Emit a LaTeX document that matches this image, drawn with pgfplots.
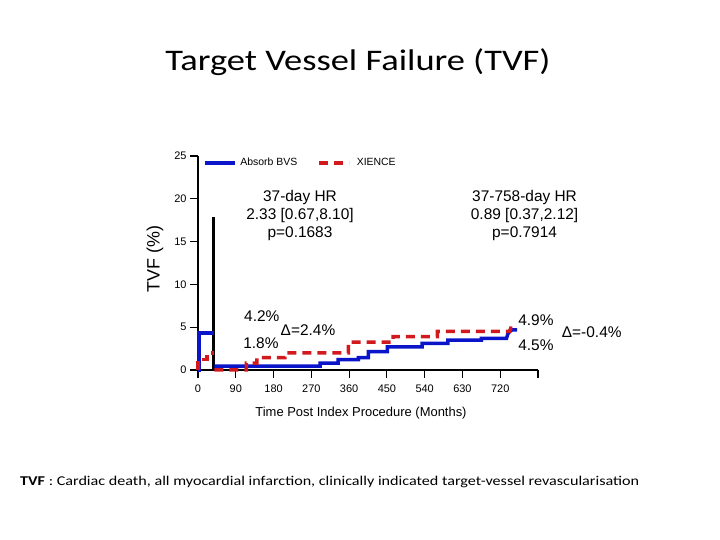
\documentclass[border=0pt]{standalone}
\usepackage{pgfplots}
\pgfplotsset{compat=1.18}
\usepackage{fontspec}
\setmainfont{Liberation Sans}
\newfontfamily\calibri{Carlito}
\definecolor{absorb}{RGB}{10,20,200}
\definecolor{xience}{RGB}{210,25,30}
\begin{document}
\begin{tikzpicture}
\useasboundingbox (0,0) rectangle (720bp,540bp);
\node[font=\calibri\fontsize{30}{36}\selectfont] at (358bp,478bp) {\scalebox{1.22}[1]{Target Vessel Failure (TVF)}};
\node[anchor=west,font=\calibri\fontsize{13.5}{16}\selectfont,inner sep=0pt] at (20bp,58bp) {\scalebox{1.2}[1]{\textbf{TVF} : Cardiac death, all myocardial infarction, clinically indicated target-vessel revascularisation}};
\node[rotate=90,font=\fontsize{18}{20}\selectfont] at (155bp,281bp) {TVF (\%)};
\node[font=\fontsize{13}{15}\selectfont] at (361bp,127bp) {Time Post Index Procedure (Months)};
\begin{axis}[
  at={(198bp,170bp)}, anchor=south west, scale only axis,
  width=340bp, height=214bp,
  xmin=0, xmax=810, ymin=0, ymax=25, clip=false,
  axis x line=bottom, axis y line=left,
  axis line style={-, line width=2.6bp, black},
  xtick={0,90,180,270,360,450,540,630,720,810},
  xticklabels={0,90,180,270,360,450,540,630,720,{}},
  ytick={0,5,10,15,20,25},
  tick align=outside, major tick length=8bp,
  every tick/.style={black, line width=1.2bp},
  tick label style={font=\fontsize{11}{13}\selectfont},
  xticklabel style={yshift=-3bp},
  /pgf/number format/assume math mode=true,
  legend style={at={(axis cs:11,24.2)}, anchor=west, draw=none, fill=none,
    font=\fontsize{10.5}{12}\selectfont, inner sep=0pt,
    /tikz/every even column/.append style={column sep=18bp}},
  legend columns=2,
  legend image code/.code={\draw[#1] (0bp,0bp) -- (30bp,0bp);},
]
\addplot[black, line width=3bp, forget plot] coordinates {(37,0)(37,17.9)};
\addplot[absorb, line width=3.5bp, forget plot] coordinates {(0,0)(2,0)(2,4.3)(37,4.3)};
\addplot[xience, line width=3.5bp, dash pattern=on 9bp off 6bp, forget plot] coordinates {(0,0)(0,1.25)(21,1.25)(21,2.0)(37,2.0)};
\addplot[absorb, line width=3.5bp] coordinates {(39,0.45)(291,0.45)(291,0.8)(334,0.8)(334,1.2)(382,1.2)(382,1.45)(406,1.45)(406,2.15)(451,2.15)(451,2.7)(534,2.7)(534,3.1)(595,3.1)(595,3.5)(675,3.5)(675,3.7)(735,3.7)(738,4.2)(743,4.5)(748,4.7)(760,4.7)};
\addlegendentry{\hspace{2bp}Absorb BVS}
\addplot[xience, line width=3.5bp, dash pattern=on 9bp off 6bp] coordinates {(39,0)(115,0)(115,0.8)(140,0.8)(140,1.45)(207,1.45)(207,2.0)(358,2.0)(358,3.25)(465,3.25)(465,3.9)(570,3.9)(570,4.5)(742,4.5)(745,4.9)(750,4.9)};
\addlegendentry{\hspace{4bp}XIENCE}
\node[align=center,font=\fontsize{15.5}{18}\selectfont] at (axis cs:243,18.0) {37-day HR\\2.33 [0.67,8.10]\\p=0.1683};
\node[align=center,font=\fontsize{15.5}{18}\selectfont] at (axis cs:778,18.0) {37-758-day HR\\0.89 [0.37,2.12]\\p=0.7914};
\node[font=\fontsize{15.5}{18}\selectfont] at (axis cs:152,6.3) {4.2\%};
\node[font=\fontsize{15.5}{18}\selectfont] at (axis cs:262,4.7) {Δ=2.4\%};
\node[font=\fontsize{15.5}{18}\selectfont] at (axis cs:150,3.15) {1.8\%};
\node[font=\fontsize{15.5}{18}\selectfont] at (axis cs:805,5.84) {4.9\%};
\node[font=\fontsize{15.5}{18}\selectfont] at (axis cs:938,4.44) {Δ=-0.4\%};
\node[font=\fontsize{15.5}{18}\selectfont] at (axis cs:805,2.92) {4.5\%};
\end{axis}
\end{tikzpicture}
\end{document}
